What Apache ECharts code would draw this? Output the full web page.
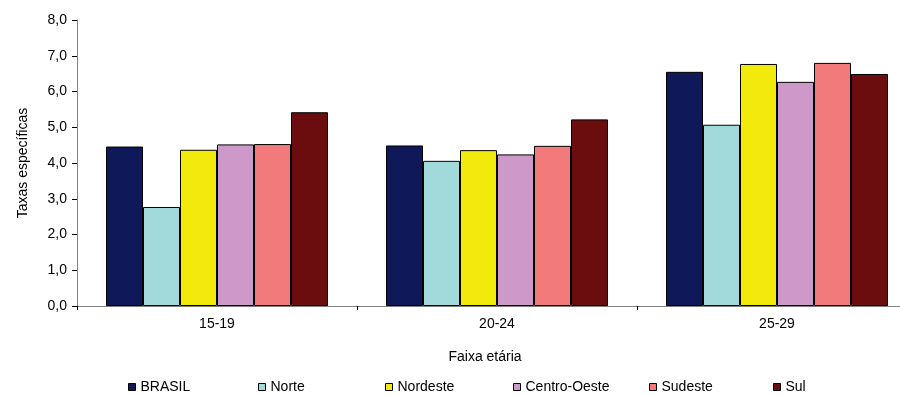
<!DOCTYPE html>
<html>
<head>
<meta charset="utf-8">
<script src="https://cdn.jsdelivr.net/npm/echarts@6/dist/echarts.min.js"></script>
<style>
  html, body { margin: 0; padding: 0; background: #fff; overflow: hidden; }
  /* the plot runs past the right edge of the window, as in the original */
  #chart { width: 918px; height: 396px; }
</style>
</head>
<body>
<div id="chart"></div>
<script>
// faixas etárias
const categories = ['15-19', '20-24', '25-29'];
const regions = ['BRASIL', 'Norte', 'Nordeste', 'Centro-Oeste', 'Sudeste', 'Sul'];
const colors = ['#0f195a', '#a2dadc', '#f2ea0a', '#cc99c8', '#f27a7a', '#6b0d0e'];

// taxas por região
const brasil = [4.46, 4.49, 6.55];
const norte = [2.77, 4.06, 5.07];
const nordeste = [4.37, 4.36, 6.77];
const centroOeste = [4.52, 4.24, 6.27];
const sudeste = [4.53, 4.48, 6.80];
const sul = [5.42, 5.22, 6.49];
const seriesValues = [brasil, norte, nordeste, centroOeste, sudeste, sul];

const yTicks = [0, 1, 2, 3, 4, 5, 6, 7, 8];
const legendLeft = [128, 258, 385, 513, 649, 773];

const fmt = v => v.toFixed(1).replace('.', ',');
const font = 'Liberation Sans, Arial, sans-serif';

const chart = echarts.init(document.getElementById('chart'));

chart.setOption({
  animation: false,
  textStyle: { fontFamily: font },
  grid: { left: 77, top: 20, right: 1, bottom: 90 },
  legend: regions.map((r, i) => ({
    data: [r],
    left: legendLeft[i],
    top: 380,
    icon: 'rect',
    itemWidth: 7,
    itemHeight: 7,
    itemGap: 0,
    padding: 0,
    selectedMode: false,
    itemStyle: { borderColor: '#000', borderWidth: 1 },
    textStyle: { fontFamily: font, fontSize: 14, color: '#000' }
  })),
  xAxis: {
    type: 'category',
    data: categories,
    name: 'Faixa etária',
    nameLocation: 'middle',
    nameGap: 44,
    nameTextStyle: { fontFamily: font, fontSize: 14, color: '#000', padding: [0, 24, 0, 0] },
    axisLine: { lineStyle: { color: '#808080', width: 1 } },
    axisTick: { show: true, length: 4, lineStyle: { color: '#000' }, interval: 0 },
    axisLabel: { fontFamily: font, fontSize: 14, color: '#000', margin: 11 }
  },
  yAxis: {
    type: 'value',
    min: yTicks[0],
    max: yTicks[yTicks.length - 1],
    interval: 1,
    name: 'Taxas específicas',
    nameLocation: 'middle',
    nameRotate: 90,
    nameGap: 47,
    nameTextStyle: { fontFamily: font, fontSize: 14, color: '#000' },
    axisLine: { show: true, lineStyle: { color: '#808080', width: 1 } },
    axisTick: { show: true, length: 5, lineStyle: { color: '#000' } },
    splitLine: { show: false },
    axisLabel: { fontFamily: font, fontSize: 14, color: '#000', margin: 10, formatter: fmt }
  },
  series: regions.map((r, i) => ({
    name: r,
    type: 'bar',
    data: seriesValues[i],
    barWidth: 37,
    barGap: '0%',
    itemStyle: { color: colors[i], borderColor: '#000', borderWidth: 1 }
  }))
});
</script>
</body>
</html>
